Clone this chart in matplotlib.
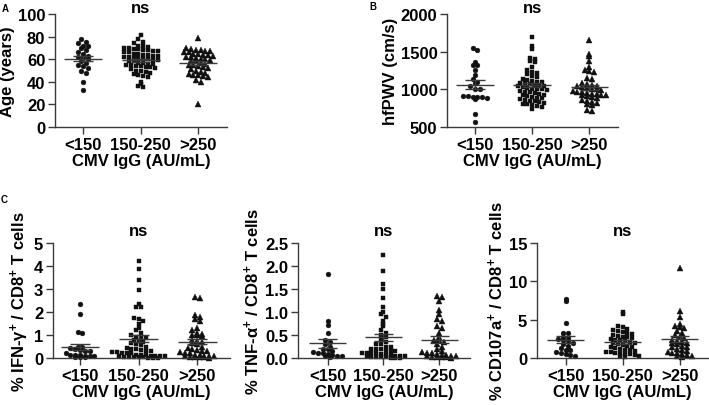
import matplotlib
matplotlib.use("Agg")
import matplotlib.pyplot as plt
import matplotlib.transforms as mtransforms
import numpy as np

plt.rcParams['font.family'] = ['Liberation Sans', 'DejaVu Sans']
plt.rcParams['font.weight'] = 'bold'
plt.rcParams['mathtext.fontset'] = 'custom'
plt.rcParams['mathtext.rm'] = 'Liberation Sans:bold'
plt.rcParams['mathtext.bf'] = 'Liberation Sans:bold'
plt.rcParams['mathtext.it'] = 'Liberation Sans:bold:italic'
plt.rcParams['mathtext.default'] = 'rm'

groups = ['<150', '150-250', '>250']

age_lo = [78, 75, 74, 72, 72, 70, 68, 66, 65, 63, 62, 61, 60, 58, 57, 55, 54, 52, 50, 48, 40, 33]
age_mid = [81, 78, 75, 74, 72, 72, 71, 70, 70, 69, 69, 68, 68, 67, 67, 66, 66, 65, 65, 64, 64,
           63, 63, 62, 62, 61, 61, 60, 60, 59, 59, 58, 58, 57, 57, 56, 56, 55, 55, 54, 54, 53,
           53, 52, 51, 50, 50, 49, 48, 47, 46, 45, 44, 40, 38, 36, 35]
age_hi = [79, 70, 69, 68, 68, 67, 67, 66, 66, 65, 65, 64, 64, 63, 62, 62, 61, 60, 60, 59, 58,
          58, 57, 56, 55, 55, 54, 53, 52, 51, 50, 49, 48, 47, 46, 46, 45, 44, 42, 40, 20]

pwv_lo = [1555, 1520, 1360, 1320, 1320, 1260, 1195, 1140, 1100, 1080, 1040, 1010, 1000, 910,
          905, 900, 900, 895, 880, 870, 670, 570]
pwv_mid = [1700, 1580, 1540, 1420, 1400, 1380, 1360, 1300, 1250, 1230, 1220, 1200, 1180, 1160,
           1140, 1120, 1110, 1100, 1100, 1090, 1080, 1070, 1060, 1050, 1050, 1040, 1030, 1020,
           1010, 1000, 1000, 990, 980, 970, 960, 950, 940, 930, 920, 910, 900, 890, 880, 870,
           860, 850, 840, 830, 820, 810, 800, 790, 780, 760, 740]
pwv_hi = [1660, 1470, 1440, 1380, 1300, 1250, 1240, 1230, 1150, 1140, 1080, 1070, 1060, 1050,
          1040, 1030, 1020, 1010, 1000, 990, 980, 970, 960, 950, 940, 940, 930, 930, 920, 910,
          900, 880, 860, 840, 830, 820, 810, 790, 720, 710]

ifn_lo = [2.33, 1.9, 1.15, 1.1, 0.5, 0.5, 0.45, 0.4, 0.35, 0.3, 0.3, 0.2, 0.15, 0.15, 0.15,
          0.1, 0.1, 0.1, 0.05, 0.05, 0.05]
ifn_mid = [4.2, 3.85, 3.4, 2.95, 2.35, 2.2, 2.2, 1.75, 1.7, 1.6, 1.5, 1.3, 1.2, 1.1, 1.0, 0.9,
           0.9, 0.85, 0.8, 0.75, 0.7, 0.65, 0.6, 0.55, 0.5, 0.45, 0.4, 0.4, 0.35, 0.3, 0.3, 0.25,
           0.25, 0.2, 0.2, 0.2, 0.15, 0.15, 0.15, 0.1, 0.1, 0.1, 0.1, 0.08, 0.06, 0.05, 0.05,
           0.04, 0.03, 0.02, 0.02, 0.01]
ifn_hi = [2.65, 2.6, 1.85, 1.8, 1.7, 1.6, 1.3, 1.2, 1.1, 1.05, 1.0, 1.0, 0.95, 0.8, 0.75, 0.7,
          0.65, 0.6, 0.5, 0.45, 0.4, 0.35, 0.3, 0.3, 0.25, 0.2, 0.2, 0.15, 0.15, 0.1, 0.1, 0.1,
          0.08, 0.06, 0.05, 0.04, 0.03, 0.02]

tnf_lo = [1.82, 0.8, 0.72, 0.55, 0.4, 0.35, 0.3, 0.25, 0.2, 0.2, 0.15, 0.12, 0.1, 0.1, 0.08,
          0.07, 0.05, 0.05, 0.04, 0.03]
tnf_mid = [2.25, 1.9, 1.6, 1.5, 1.3, 1.1, 1.0, 0.95, 0.9, 0.8, 0.75, 0.7, 0.6, 0.55, 0.5, 0.45,
           0.4, 0.35, 0.3, 0.3, 0.25, 0.25, 0.2, 0.2, 0.2, 0.15, 0.15, 0.15, 0.1, 0.1, 0.1, 0.1,
           0.08, 0.07, 0.06, 0.05, 0.05, 0.05, 0.04, 0.03, 0.03, 0.02, 0.02, 0.01, 0.01, 0.0]
tnf_hi = [1.35, 1.32, 1.25, 1.05, 0.95, 0.85, 0.8, 0.7, 0.65, 0.55, 0.45, 0.4, 0.4, 0.35, 0.3,
          0.25, 0.2, 0.15, 0.12, 0.1, 0.1, 0.08, 0.07, 0.06, 0.05, 0.05, 0.04, 0.03, 0.03, 0.02,
          0.02, 0.01]

cd_lo = [7.7, 7.5, 4.6, 3.3, 3.2, 2.8, 2.6, 2.5, 2.4, 2.2, 2.0, 1.8, 1.6, 1.3, 1.1, 1.0, 0.8,
         0.6, 0.5, 0.4, 0.3]
cd_mid = [6.0, 5.7, 4.2, 4.0, 3.8, 3.6, 3.5, 3.4, 3.2, 3.1, 3.0, 2.9, 2.8, 2.7, 2.6, 2.5, 2.4,
          2.3, 2.2, 2.1, 2.0, 1.9, 1.8, 1.7, 1.6, 1.5, 1.4, 1.3, 1.2, 1.1, 1.0, 0.9, 0.8, 0.8,
          0.7, 0.6, 0.5, 0.5, 0.4, 0.3, 0.2, 0.1]
cd_hi = [11.7, 6.1, 5.4, 4.5, 4.2, 4.0, 3.9, 3.5, 3.2, 3.0, 2.8, 2.6, 2.4, 2.2, 2.1, 2.0, 1.9,
         1.8, 1.6, 1.5, 1.4, 1.2, 1.0, 0.9, 0.8, 0.7, 0.6, 0.5, 0.4, 0.3, 0.2, 0.1]

W, H = 709, 406
fig = plt.figure(figsize=(W / 100, H / 100), dpi=100)

markers = [('o', 3.5), ('s', 3.4), ('^', 3.8)]
ink = '#111111'
line_c = '#3a3a3a'
fs = 12


def swarm(ax, vals, pos, marker, ms, px_y, px_x, ymin):
    vals = np.asarray(vals, dtype=float)
    rows = np.round((vals - ymin) * px_y / 4.3)
    xs = np.zeros(len(vals))
    for r in np.unique(rows):
        idx = np.where(rows == r)[0]
        k = len(idx)
        xs[idx] = pos + (np.arange(k) - (k - 1) / 2) * 4.8 / px_x
    ax.plot(xs, vals, linestyle='none', marker=marker, ms=ms, color=ink, mec=ink, mew=0.3,
            clip_on=False)
    m = vals.mean()
    sem = vals.std(ddof=1) / np.sqrt(len(vals))
    ax.hlines(m, pos - 0.33, pos + 0.33, color=line_c, lw=1.0, zorder=4)
    ax.vlines(pos, m - sem, m + sem, color=line_c, lw=1.0, zorder=4)
    ax.hlines([m - sem, m + sem], pos - 0.17, pos + 0.17, color=line_c, lw=1.0, zorder=4)


def panel(box, data, ylim, yticks, yticklabels, ylabel, xlim, ns_top):
    l, r, t, b = box
    ax = fig.add_axes([l / W, (H - b) / H, (r - l) / W, (b - t) / H])
    px_y = (b - t) / (ylim[1] - ylim[0])
    px_x = (r - l) / (xlim[1] - xlim[0])
    for i, vals in enumerate(data):
        swarm(ax, vals, i, markers[i][0], markers[i][1], px_y, px_x, ylim[0])
    ax.set_xlim(*xlim)
    ax.set_ylim(*ylim)
    ax.set_xticks(range(3))
    ax.set_xticklabels(groups)
    ax.set_yticks(yticks)
    ax.set_yticklabels(yticklabels)
    for s in ['top', 'right']:
        ax.spines[s].set_visible(False)
    for s in ['left', 'bottom']:
        ax.spines[s].set_linewidth(1.0)
        ax.spines[s].set_color(line_c)
    ax.tick_params(length=5, width=1.0, color=line_c, labelsize=fs, pad=2)
    ax.set_xlabel('CMV IgG (AU/mL)', fontsize=fs, fontweight='bold', labelpad=1)
    ax.set_ylabel(ylabel, fontsize=fs, fontweight='bold', labelpad=2)
    trans = mtransforms.blended_transform_factory(ax.transData, fig.transFigure)
    ax.text(1, 1 - ns_top / H, 'ns', transform=trans, ha='center', va='top',
            fontsize=fs, fontweight='bold')
    return ax


panel((55, 227, 15, 128), [age_lo, age_mid, age_hi], (0, 100), [0, 20, 40, 60, 80, 100],
      ['0', '20', '40', '60', '80', '100'], 'Age (years)', (-0.49, 2.5), 1)
panel((447, 618, 15, 128), [pwv_lo, pwv_mid, pwv_hi], (500, 2000), [500, 1000, 1500, 2000],
      ['500', '1000', '1500', '2000'], 'hfPWV (cm/s)', (-0.49, 2.5), 1)
panel((53, 230, 244, 359), [ifn_lo, ifn_mid, ifn_hi], (0, 5), [0, 1, 2, 3, 4, 5],
      ['0', '1', '2', '3', '4', '5'], r'% IFN-$\gamma^{+}$ / CD8$^{+}$ T cells', (-0.46, 2.56), 224)
panel((298, 470, 244, 359), [tnf_lo, tnf_mid, tnf_hi], (0, 2.5), [0, 0.5, 1.0, 1.5, 2.0, 2.5],
      ['0.0', '0.5', '1.0', '1.5', '2.0', '2.5'], r'% TNF-$\alpha^{+}$ / CD8$^{+}$ T cells',
      (-0.53, 2.55), 224)
panel((537, 708, 244, 359), [cd_lo, cd_mid, cd_hi], (0, 15), [0, 5, 10, 15],
      ['0', '5', '10', '15'], r'% CD107a$^{+}$ / CD8$^{+}$ T cells', (-0.5, 2.5), 224)

fig.text(5 / W, 1 - 9 / H, 'A', fontsize=7, fontweight='bold', ha='center', va='center')
fig.text(373 / W, 1 - 7 / H, 'B', fontsize=7, fontweight='bold', ha='center', va='center')
fig.text(4 / W, 1 - 200 / H, 'C', fontsize=7, fontweight='bold', ha='center', va='center')

fig.savefig('out.png', dpi=100)
